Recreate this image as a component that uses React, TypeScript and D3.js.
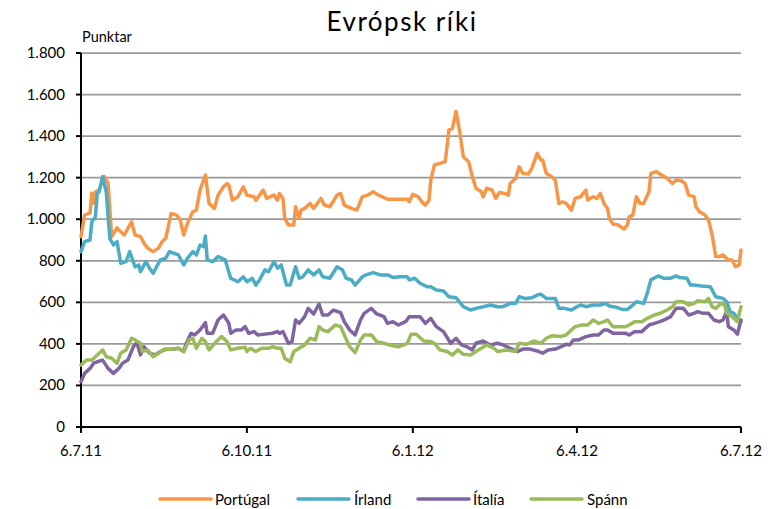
import React from 'react';
import * as d3 from 'd3';

// dagar frá 6.7.11, gildi í punktum
const portugal: [number, number][] = [
  [0, 916], [2, 1020], [5, 1030], [6, 1126], [7, 1078], [8, 1132], [10, 1140], [13, 1205], [15, 1174],
  [17, 916], [20, 958], [21, 948], [24, 924], [28, 988], [30, 924], [33, 916], [35, 884], [37, 861],
  [40, 844], [43, 861], [45, 892], [47, 908], [50, 1028], [53, 1020], [55, 996], [57, 924], [59, 980],
  [62, 1036], [64, 1044], [66, 1140], [69, 1213], [71, 1076], [74, 1052], [76, 1116], [79, 1156],
  [81, 1172], [82, 1164], [84, 1092], [87, 1108], [90, 1156], [92, 1116], [96, 1108], [97, 1092],
  [101, 1140], [103, 1100], [107, 1116], [109, 1092], [110, 1124], [112, 1100], [113, 1004], [115, 972],
  [118, 972], [119, 1060], [121, 1004], [122, 1044], [124, 1052], [127, 1076], [129, 1052], [133, 1100],
  [135, 1068], [138, 1060], [142, 1116], [144, 1124], [146, 1068], [150, 1052], [153, 1044], [156, 1108],
  [159, 1116], [162, 1132], [165, 1116], [170, 1096], [175, 1096], [181, 1096], [182, 1084], [184, 1120],
  [187, 1108], [189, 1084], [191, 1068], [193, 1092], [194, 1189], [196, 1261], [199, 1269], [202, 1277],
  [204, 1429], [206, 1437], [208, 1520], [210, 1421], [212, 1301], [215, 1277], [217, 1205], [219, 1149],
  [222, 1132], [223, 1108], [225, 1149], [228, 1140], [230, 1100], [232, 1129], [235, 1124], [237, 1116],
  [238, 1172], [241, 1196], [243, 1252], [245, 1221], [248, 1217], [250, 1245], [253, 1317], [255, 1285],
  [256, 1285], [258, 1221], [261, 1205], [263, 1189], [265, 1076], [267, 1084], [269, 1076], [272, 1044],
  [274, 1100], [277, 1108], [280, 1140], [281, 1092], [284, 1108], [286, 1100], [288, 1124], [290, 1076],
  [292, 1052], [293, 1004], [295, 977], [298, 972], [301, 953], [303, 972], [304, 1012], [306, 1020],
  [308, 1108], [310, 1076], [312, 1076], [315, 1132], [316, 1221], [319, 1229], [322, 1213], [325, 1197],
  [328, 1172], [330, 1189], [333, 1185], [335, 1172], [337, 1116], [340, 1108], [341, 1060], [343, 1036],
  [346, 1020], [348, 996], [350, 924], [352, 820], [354, 820], [356, 828], [359, 804], [361, 804],
  [363, 771], [365, 780], [366, 852],
];

const irland: [number, number][] = [
  [0, 844], [2, 892], [5, 900], [6, 988], [8, 1012], [9, 1124], [10, 1132], [12, 1205], [14, 1132],
  [16, 908], [18, 876], [20, 892], [22, 788], [25, 796], [27, 844], [30, 771], [32, 780], [33, 747],
  [36, 796], [38, 764], [40, 740], [44, 804], [47, 812], [49, 844], [54, 828], [57, 780], [59, 812],
  [62, 844], [64, 828], [66, 876], [68, 868], [69, 919], [70, 804], [73, 796], [76, 820], [80, 804],
  [83, 716], [87, 699], [90, 723], [92, 699], [95, 716], [97, 683], [99, 708], [102, 756], [104, 747],
  [107, 796], [109, 764], [111, 780], [114, 683], [116, 683], [119, 771], [121, 716], [123, 723],
  [126, 756], [129, 732], [132, 756], [134, 723], [138, 716], [142, 771], [145, 756], [147, 716],
  [150, 708], [152, 683], [156, 723], [158, 732], [162, 743], [166, 732], [170, 732], [173, 720],
  [177, 723], [181, 723], [182, 708], [185, 716], [188, 692], [192, 675], [194, 675], [197, 659],
  [201, 655], [204, 627], [208, 622], [212, 579], [216, 563], [219, 571], [223, 579], [227, 587],
  [231, 579], [234, 579], [238, 595], [241, 595], [243, 627], [246, 619], [250, 622], [253, 635],
  [255, 639], [258, 619], [263, 619], [265, 571], [268, 571], [272, 563], [275, 579], [277, 587],
  [280, 579], [284, 587], [288, 587], [291, 595], [293, 582], [297, 576], [300, 566], [303, 566],
  [306, 587], [308, 603], [312, 595], [314, 643], [316, 708], [320, 727], [323, 716], [327, 716],
  [330, 727], [332, 719], [336, 716], [338, 683], [340, 683], [344, 679], [349, 675], [352, 627],
  [356, 619], [358, 603], [360, 555], [362, 547], [364, 523], [366, 506],
];

const italia: [number, number][] = [
  [0, 218], [2, 258], [5, 282], [7, 307], [9, 314], [12, 322], [15, 282], [18, 258], [21, 282],
  [23, 307], [26, 322], [29, 386], [31, 406], [33, 347], [35, 386], [38, 355], [41, 347], [44, 363],
  [47, 374], [51, 374], [54, 379], [57, 363], [58, 395], [61, 451], [63, 443], [66, 467], [69, 502],
  [70, 451], [73, 451], [76, 515], [79, 539], [82, 499], [83, 451], [86, 467], [89, 467], [91, 483],
  [93, 451], [96, 459], [98, 443], [102, 447], [106, 451], [109, 459], [110, 451], [112, 459],
  [115, 403], [117, 411], [119, 515], [121, 499], [124, 531], [126, 571], [129, 544], [132, 592],
  [134, 539], [137, 539], [140, 563], [144, 550], [146, 507], [149, 467], [152, 443], [155, 515],
  [157, 547], [161, 571], [164, 544], [168, 531], [170, 499], [173, 507], [176, 491], [180, 507],
  [182, 531], [188, 531], [191, 499], [194, 523], [197, 483], [201, 459], [205, 403], [208, 427],
  [211, 395], [214, 386], [217, 371], [219, 403], [223, 414], [227, 395], [231, 403], [234, 395],
  [238, 379], [242, 363], [245, 375], [249, 375], [253, 366], [256, 355], [259, 371], [263, 375],
  [266, 386], [269, 398], [271, 395], [273, 419], [276, 419], [280, 435], [284, 443], [287, 443],
  [290, 467], [292, 467], [295, 451], [298, 451], [302, 451], [304, 443], [307, 459], [311, 459],
  [315, 491], [318, 499], [321, 507], [324, 518], [327, 531], [330, 571], [334, 571], [337, 539],
  [340, 547], [342, 555], [345, 547], [348, 547], [351, 515], [354, 507], [356, 515], [358, 555],
  [359, 483], [362, 467], [364, 447], [366, 515],
];

const spann: [number, number][] = [
  [0, 298], [3, 322], [6, 322], [8, 338], [12, 371], [14, 338], [17, 331], [20, 307], [22, 355],
  [25, 371], [28, 427], [30, 419], [33, 403], [34, 363], [37, 371], [40, 338], [43, 355], [46, 374],
  [50, 374], [54, 379], [57, 363], [60, 419], [62, 427], [64, 379], [67, 427], [69, 411], [71, 371],
  [75, 411], [78, 435], [81, 411], [83, 371], [87, 379], [91, 384], [92, 363], [94, 379], [97, 363],
  [100, 379], [104, 379], [106, 386], [109, 379], [111, 379], [113, 331], [116, 314], [118, 363],
  [121, 379], [124, 395], [127, 427], [130, 419], [132, 483], [134, 467], [137, 459], [141, 491],
  [144, 483], [146, 443], [149, 386], [152, 358], [155, 419], [157, 443], [161, 443], [164, 411],
  [168, 403], [171, 395], [176, 386], [181, 403], [183, 446], [186, 446], [190, 414], [194, 411],
  [196, 403], [199, 371], [203, 363], [206, 347], [209, 371], [212, 350], [216, 347], [219, 363],
  [225, 395], [229, 379], [231, 363], [236, 371], [241, 363], [243, 403], [247, 398], [251, 414],
  [255, 403], [258, 427], [261, 439], [266, 435], [269, 443], [271, 459], [274, 483], [278, 491],
  [281, 491], [284, 515], [287, 499], [290, 507], [292, 515], [295, 483], [298, 483], [302, 483],
  [304, 491], [307, 507], [311, 507], [314, 523], [318, 539], [321, 547], [325, 563], [328, 579],
  [330, 603], [334, 603], [337, 587], [340, 595], [342, 608], [346, 603], [348, 619], [350, 579],
  [352, 571], [355, 595], [357, 587], [358, 547], [361, 531], [364, 507], [366, 579],
];

const seriesNames = ['Portúgal', 'Írland', 'Ítalía', 'Spánn'];
const seriesData = [portugal, irland, italia, spann];
const colors = ['#F79646', '#4BACC6', '#8064A2', '#9BBB59'];

const yTicks = [0, 200, 400, 600, 800, 1000, 1200, 1400, 1600, 1800];
const xTickDates = ['2011-07-06', '2011-10-06', '2012-01-06', '2012-04-06', '2012-07-06'];
const xTickLabels = ['6.7.11', '6.10.11', '6.1.12', '6.4.12', '6.7.12'];

const W = 782;
const H = 509;
const margin = { left: 81, right: 41, top: 53, bottom: 82 };
const font = 'Lato, "Open Sans", sans-serif';

const parse = d3.timeParse('%Y-%m-%d');
const start = parse('2011-07-06') as Date;
const end = parse('2012-07-06') as Date;
const dayToDate = (d: number) => d3.timeDay.offset(start, d);

export default function App() {
  const x = d3.scaleTime().domain([start, end]).range([margin.left, W - margin.right]);
  const y = d3.scaleLinear().domain([0, 1800]).range([H - margin.bottom, margin.top]);

  const line = d3.line<[number, number]>()
    .x(d => x(dayToDate(d[0])))
    .y(d => y(d[1]));

  const fmt = (v: number) => d3.format(',')(v).replace(/,/g, '.');

  const legendItems = [
    { lx: 160, tx: 215 },
    { lx: 298, tx: 354 },
    { lx: 418, tx: 473 },
    { lx: 531, tx: 587 },
  ];

  return (
    <div style={{ position: 'absolute', left: 0, top: 0 }}>
      <svg width={W} height={H} style={{ display: 'block', background: '#fff' }}>
        <text x={402} y={31} textAnchor="middle" fontFamily={font} fontSize={26} letterSpacing={1.5} fill="#000">
          Evrópsk  ríki
        </text>
        <text x={82} y={42} fontFamily={font} fontSize={14.5} fill="#000">Punktar</text>

        {/* gridlines */}
        {yTicks.filter(t => t > 0).map(t => (
          <line key={t} x1={margin.left} x2={W - margin.right} y1={y(t)} y2={y(t)} stroke="#9a9a9a" strokeWidth={1.75} />
        ))}

        {/* y axis */}
        <line x1={margin.left} x2={margin.left} y1={y(1800)} y2={y(0)} stroke="#000" strokeWidth={2} />
        {yTicks.map(t => (
          <g key={t}>
            <line x1={margin.left - 5} x2={margin.left} y1={y(t)} y2={y(t)} stroke="#000" strokeWidth={2} />
            <text x={65} y={y(t) + 5} textAnchor="end" fontFamily={font} fontSize={15} fill="#000">{fmt(t)}</text>
          </g>
        ))}

        {/* x axis */}
        <line x1={margin.left - 5} x2={W - margin.right} y1={y(0)} y2={y(0)} stroke="#000" strokeWidth={2} />
        {xTickDates.map((d, i) => {
          const px = x(parse(d) as Date);
          return (
            <g key={d}>
              <line x1={px} x2={px} y1={y(0)} y2={y(0) + 6} stroke="#000" strokeWidth={2} />
              <text x={px} y={y(0) + 29} textAnchor="middle" fontFamily={font} fontSize={15} fill="#000">{xTickLabels[i]}</text>
            </g>
          );
        })}

        {/* series */}
        {seriesData.map((s, i) => (
          <path key={seriesNames[i]} d={line(s) || ''} fill="none" stroke={colors[i]} strokeWidth={3.5} strokeLinejoin="round" strokeLinecap="round" />
        ))}

        {/* legend */}
        {seriesNames.map((n, i) => (
          <g key={n}>
            <line x1={legendItems[i].lx} x2={legendItems[i].lx + 51} y1={499} y2={499} stroke={colors[i]} strokeWidth={3.5} strokeLinecap="round" />
            <text x={legendItems[i].tx} y={505} fontFamily={font} fontSize={15} fill="#000">{n}</text>
          </g>
        ))}
      </svg>
    </div>
  );
}
